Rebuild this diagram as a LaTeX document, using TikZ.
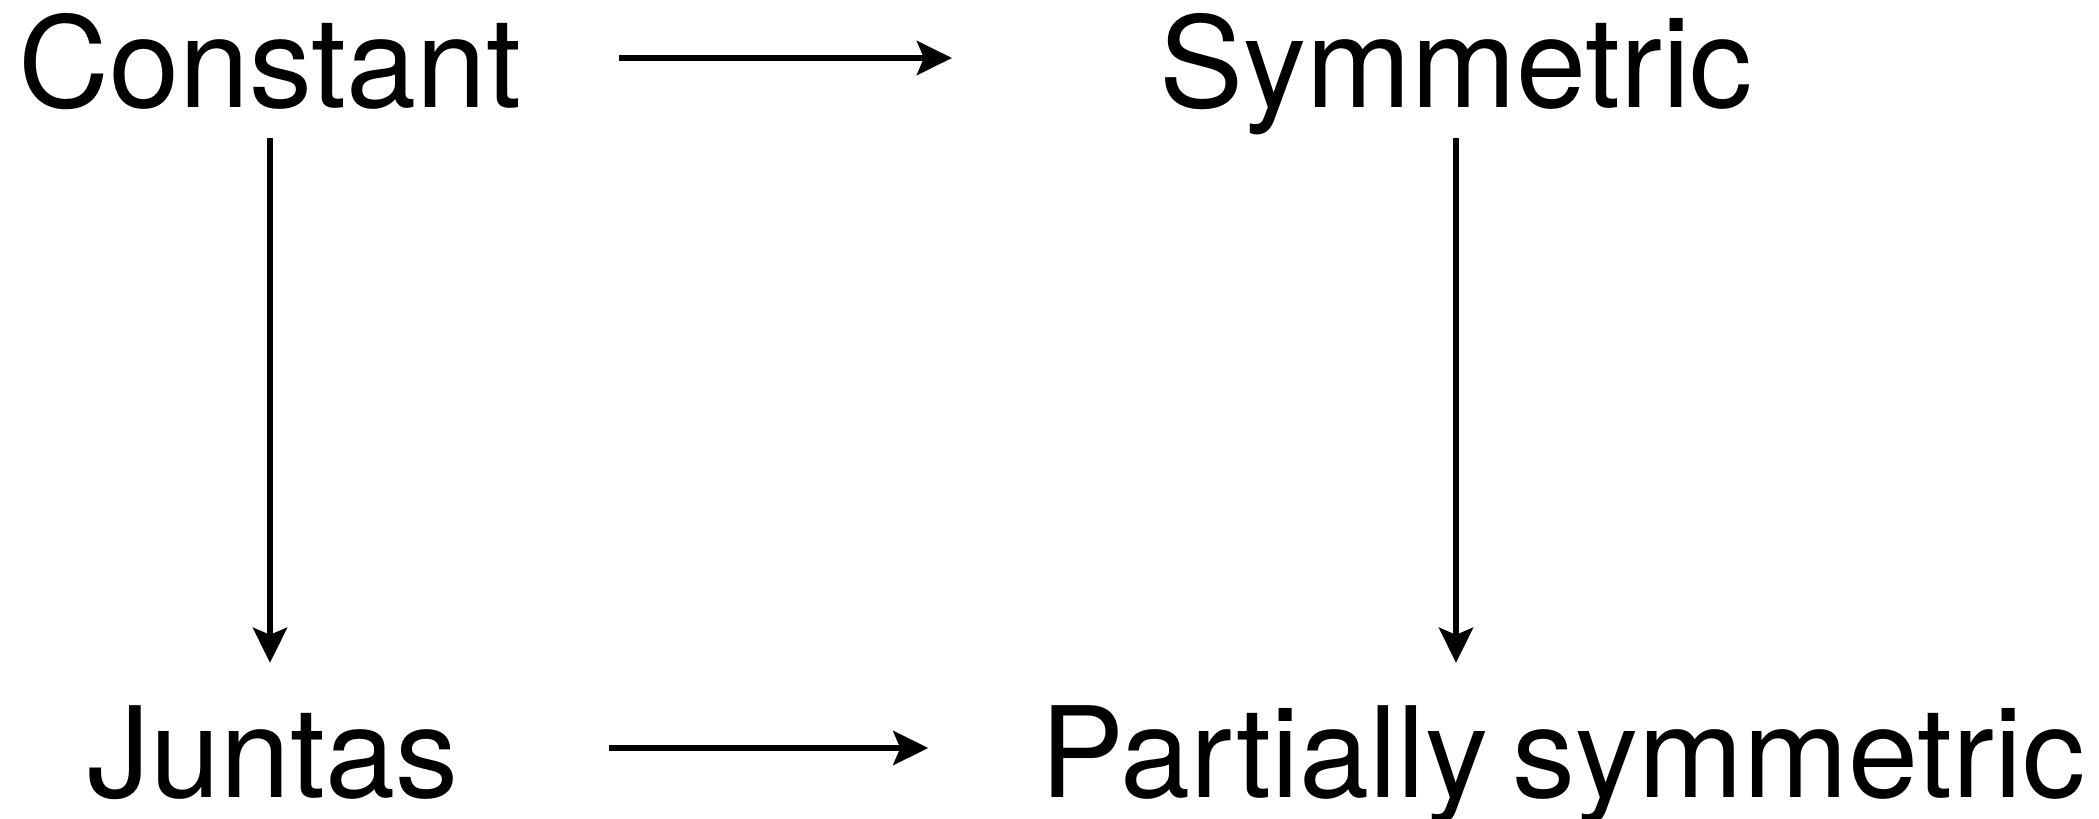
\documentclass[tikz,border=0pt]{standalone}
\usepackage{fontspec}
\setmainfont{TeX Gyre Heros}
\usetikzlibrary{arrows.meta}
\tikzset{
  lbl/.style={inner sep=0pt, anchor=base, text height=98pt, text depth=0pt, font=\fontsize{126}{150}\selectfont},
  arr/.style={line width=6pt, -{Stealth[length=35pt,width=34pt,inset=7pt]}}
}
\begin{document}
\begin{tikzpicture}[x=1pt,y=-1pt]
\useasboundingbox (0,0) rectangle (2099,819);
\node[lbl] (c) at (270,107) {Constant};
\node[lbl] (s) at (1456,107) {Symmetric};
\node[lbl] (j) at (273,797) {Juntas};
\node[lbl] (p) at (1563,797) {Partially\hspace{-0.08em} symmetric};
\draw[arr] ([xshift=97pt]c.east) -- ([xshift=-207pt]s.west);
\draw[arr] ([xshift=150pt]j.east) -- ([xshift=-112pt]p.west);
\draw[arr, shorten <=31pt, shorten >=36pt] (c.south) -- (c.south |- j.north);
\draw[arr, shorten <=31pt, shorten >=36pt] (s.south) -- (s.south |- p.north);
\end{tikzpicture}
\end{document}
